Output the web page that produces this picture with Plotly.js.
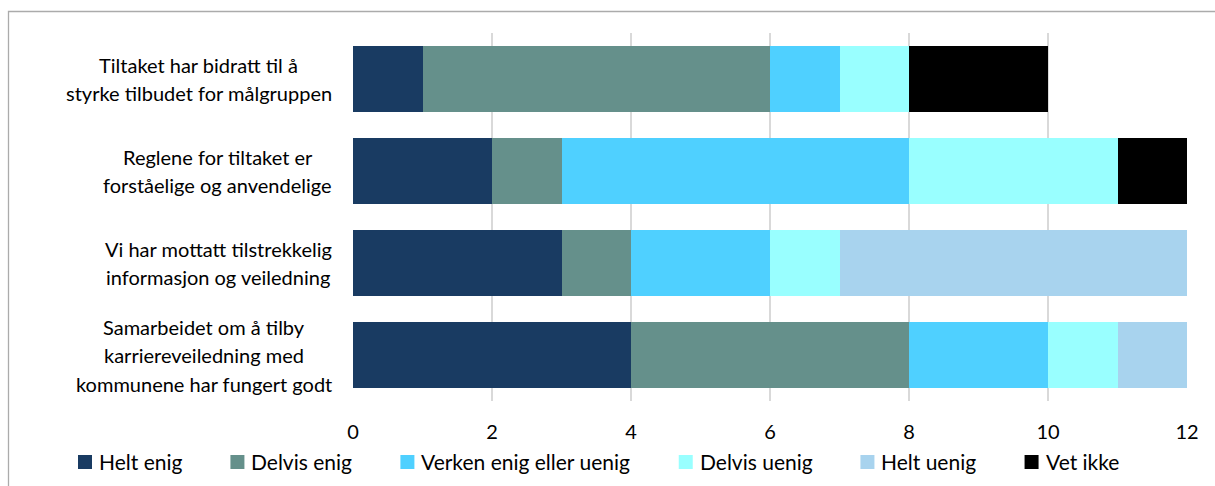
<!DOCTYPE html>
<html>
<head>
<meta charset="utf-8">
<script src="https://cdn.plot.ly/plotly-3.0.1.min.js"></script>
<style>
  html, body { margin: 0; padding: 0; background: #fff; }
  #chart { width: 1215px; height: 486px; }
</style>
</head>
<body>
<div id="chart"></div>
<script>
// Categories (top to bottom); <br> marks the line breaks of each label
const categories = [
  "Tiltaket har bidratt til å<br>styrke tilbudet for målgruppen",
  "Reglene for tiltaket er<br>forståelige og anvendelige",
  "Vi har mottatt tilstrekkelig<br>informasjon og veiledning",
  "Samarbeidet om å tilby<br>karriereveiledning med<br>kommunene har fungert godt"
];
const seriesNames = ["Helt enig", "Delvis enig", "Verken enig eller uenig", "Delvis uenig", "Helt uenig", "Vet ikke"];
const heltEnig    = [1, 2, 3, 4];
const delvisEnig  = [5, 1, 1, 4];
const verken      = [1, 5, 2, 2];
const delvisUenig = [1, 3, 1, 1];
const heltUenig   = [0, 0, 5, 1];
const vetIkke     = [2, 1, 0, 0];
const xTicks = [0, 2, 4, 6, 8, 10, 12];

const seriesValues = [heltEnig, delvisEnig, verken, delvisUenig, heltUenig, vetIkke];
const colors = ["#193b62", "#65908b", "#4fd0ff", "#99ffff", "#a8d3ee", "#000000"];

const FONT = "Lato, 'Open Sans', sans-serif";
const W = 1215, H = 486;
const M = { l: 353, r: 28, t: 33, b: 85 };
const PW = W - M.l - M.r, PH = H - M.t - M.b;
const px2x = px => (px - M.l) / PW;
const px2y = py => (M.t + PH - py) / PH;

const traces = seriesNames.map((name, i) => ({
  type: "bar",
  orientation: "h",
  name: name,
  x: seriesValues[i],
  y: categories,
  marker: { color: colors[i], line: { width: 0 } },
  hoverinfo: "x+name"
}));

const cvs = document.createElement("canvas").getContext("2d");

// category labels: each line centred, block right-aligned next to the plot
const LINE = 28.5;
cvs.font = "20px Lato";
const RIGHT_GAP = 21;
const annotations = [];
categories.forEach(c => {
  const lines = c.split("<br>");
  const n = lines.length;
  const bw = Math.max(...lines.map(s => cvs.measureText(s).width));
  lines.forEach((ln, k) => {
    annotations.push({
      x: 0, xref: "paper", xanchor: "center",
      y: c, yref: "y", yanchor: "middle",
      xshift: -RIGHT_GAP - bw / 2,
      yshift: ((n - 1) / 2 - k) * LINE,
      text: ln, showarrow: false,
      font: { family: FONT, size: 20, color: "#000" }
    });
  });
});

// legend row below the axis (square swatch + name)
const shapes = [{
  type: "rect", xref: "paper", yref: "paper",
  x0: px2x(8.5), x1: px2x(1230),
  y0: px2y(520), y1: px2y(11.5),
  line: { color: "#ababab", width: 1.3 }, fillcolor: "rgba(0,0,0,0)", layer: "below"
}];
cvs.font = "21px Lato";
const LEG_Y = 462, SW = 14, SW_GAP = 6, ITEM_GAP = 49;
let lx = 78;
seriesNames.forEach((name, i) => {
  shapes.push({
    type: "rect", xref: "paper", yref: "paper",
    x0: px2x(lx), x1: px2x(lx + SW),
    y0: px2y(LEG_Y + SW / 2), y1: px2y(LEG_Y - SW / 2),
    line: { width: 0 }, fillcolor: colors[i]
  });
  annotations.push({
    x: px2x(lx + SW + SW_GAP - 1), xref: "paper", xanchor: "left",
    y: px2y(LEG_Y - 1), yref: "paper", yanchor: "middle",
    text: name, showarrow: false,
    font: { family: FONT, size: 21, color: "#000" }
  });
  lx += SW + SW_GAP + cvs.measureText(name).width + ITEM_GAP;
});

const layout = {
  width: W, height: H,
  margin: { l: M.l, r: M.r, t: M.t, b: M.b, autoexpand: false },
  paper_bgcolor: "#fff", plot_bgcolor: "#fff",
  barmode: "stack",
  bargap: 0.283,
  font: { family: FONT, size: 20, color: "#000" },
  xaxis: {
    range: [0, 12], tickvals: xTicks, ticktext: xTicks.map(String),
    showgrid: true, gridcolor: "#d9d9d9", gridwidth: 2,
    zeroline: false, showline: false, ticks: "",
    ticklabelstandoff: 17,
    tickfont: { family: FONT, size: 20, color: "#000" },
    fixedrange: true
  },
  yaxis: {
    autorange: "reversed", showticklabels: false, showgrid: false,
    zeroline: false, showline: false, ticks: "", fixedrange: true
  },
  showlegend: false,
  annotations: annotations,
  shapes: shapes
};

Plotly.newPlot("chart", traces, layout, { displayModeBar: false, staticPlot: true });
</script>
</body>
</html>
